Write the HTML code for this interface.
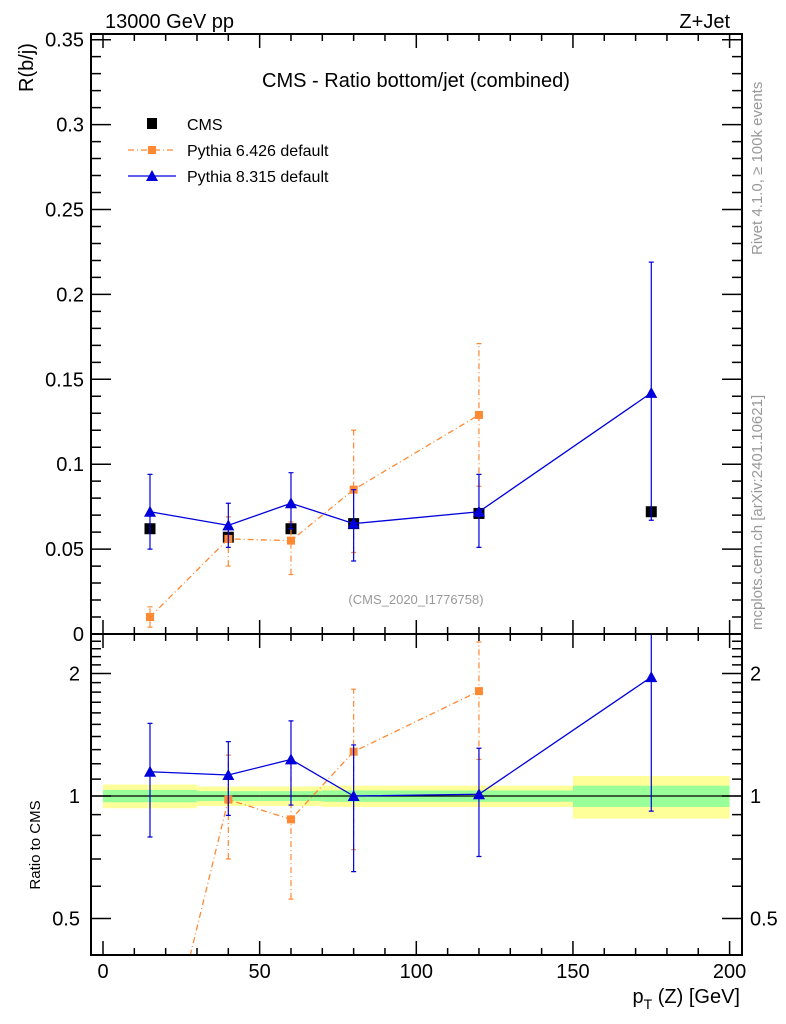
<!DOCTYPE html>
<html><head><meta charset="utf-8"><style>
html,body{margin:0;background:#fff;overflow:hidden;width:786px;height:1024px}
svg{display:block;font-family:"Liberation Sans",Arial,sans-serif}
</style></head><body>
<svg id="chart" width="786" height="1024" viewBox="0 0 786 1024" xmlns="http://www.w3.org/2000/svg">
<defs>
<clipPath id="cm"><rect x="91" y="34" width="651" height="600"/></clipPath>
<clipPath id="cr"><rect x="91" y="634" width="651" height="321"/></clipPath>
</defs>
<g id="bands" clip-path="url(#cr)"></g>
<g id="marksMain" clip-path="url(#cm)"></g>
<g id="marksRatio" clip-path="url(#cr)"></g>
<g id="axes"></g>
<text x="105" y="28" font-size="20">13000 GeV pp</text>
<text x="730" y="28" font-size="20" text-anchor="end">Z+Jet</text>
<text x="416" y="87" font-size="20" text-anchor="middle">CMS - Ratio bottom/jet (combined)</text>
<text x="416" y="604" font-size="13" fill="#999" text-anchor="middle">(CMS_2020_I1776758)</text>
<text transform="translate(33,92) rotate(-90)" font-size="20">R(b/j)</text>
<text transform="translate(40,845) rotate(-90)" font-size="15" text-anchor="middle">Ratio to CMS</text>
<text x="740" y="1003" font-size="20" text-anchor="end">p<tspan dy="6" font-size="14">T</tspan><tspan dy="-6"> (Z) [GeV]</tspan></text>
<text transform="translate(762,255) rotate(-90)" font-size="15" fill="#999">Rivet 4.1.0, ≥ 100k events</text>
<text transform="translate(762,630) rotate(-90)" font-size="15" fill="#999">mcplots.cern.ch [arXiv:2401.10621]</text>
<g>
<rect x="147" y="118" width="10" height="11" fill="#000"/>
<text x="187" y="130" font-size="16">CMS</text>
<line x1="128" y1="150" x2="176" y2="150" stroke="#f83" stroke-width="1.2" stroke-dasharray="6,3,1,3"/>
<rect x="148" y="146" width="8" height="8" fill="#f83"/>
<text x="187" y="156" font-size="16">Pythia 6.426 default</text>
<line x1="128" y1="176" x2="176" y2="176" stroke="#00d" stroke-width="1.3"/>
<path d="M152,170 L158,181 L146,181 Z" fill="#00d"/>
<text x="187" y="182" font-size="16">Pythia 8.315 default</text>
</g>
</svg>
<script>
const xs=[15,40,60,80,120,175];
const cmsVals=[0.062,0.057,0.062,0.065,0.071,0.072];
const p6x=[15,40,60,80,120];
const p6Vals=[0.010,0.056,0.055,0.085,0.129];
const p6Lo=[0.004,0.040,0.035,0.048,0.087];
const p6Hi=[0.016,0.069,0.066,0.120,0.171];
const p8Vals=[0.072,0.064,0.077,0.065,0.072,0.142];
const p8Lo=[0.050,0.051,0.062,0.043,0.051,0.067];
const p8Hi=[0.094,0.077,0.095,0.085,0.094,0.219];
const p6Ratio=[0.16,0.98,0.876,1.285,1.81];
const p6RatioLo=[0.10,0.70,0.558,0.738,1.23];
const p6RatioHi=[0.26,1.26,1.21,1.83,2.39];
const p8Ratio=[1.147,1.126,1.23,1.00,1.01,1.96];
const p8RatioLo=[0.793,0.896,0.95,0.652,0.71,0.918];
const p8RatioHi=[1.508,1.36,1.53,1.335,1.31,2.7];
const binEdges=[0,30,50,70,90,150,200];
const bandYellow=[0.067,0.055,0.055,0.06,0.06,0.12];
const bandGreen=[0.035,0.028,0.028,0.032,0.032,0.06];
const xTicks=[0,50,100,150,200];
const yTicks=[0,0.05,0.1,0.15,0.2,0.25,0.3,0.35];
const yTickLabels=["0","0.05","0.1","0.15","0.2","0.25","0.3","0.35"];
const rTicks=[0.5,1,2];

const NS="http://www.w3.org/2000/svg";
const X=v=>103+v*(729.6-103)/200;
const Y=v=>634-v*1698;
const R=v=>796-Math.log2(v)*122.5;
function mk(p,t,a){const e=document.createElementNS(NS,t);for(const k in a)e.setAttribute(k,a[k]);p.appendChild(e);return e;}
const ax=document.getElementById('axes'),mm=document.getElementById('marksMain'),mr=document.getElementById('marksRatio'),bd=document.getElementById('bands');

for(let i=0;i<binEdges.length-1;i++){
 const y=mk(bd,'rect',{x:X(binEdges[i]),width:X(binEdges[i+1])-X(binEdges[i]),y:R(1+bandYellow[i]),height:R(1-bandYellow[i])-R(1+bandYellow[i]),fill:'#ffff99'});
 
 
 const g=mk(bd,'rect',{x:X(binEdges[i]),width:X(binEdges[i+1])-X(binEdges[i]),y:R(1+bandGreen[i]),height:R(1-bandGreen[i])-R(1+bandGreen[i]),fill:'#99ff99'});
 
 
}
const one=mk(mr,'line',{x1:91,x2:742,y1:R(1),y2:R(1),stroke:'#000','stroke-width':1.3});



function series(g,xv,vals,lo,hi,fy,color,dash,marker,name){
 const pts=xv.map((x,i)=>X(x)+','+fy(vals[i])).join(' ');
 const pl=mk(g,'polyline',{points:pts,fill:'none',stroke:color,'stroke-width':1.3,'stroke-dasharray':dash||'none'});
 
 
 xv.forEach((x,i)=>{
  const cx=X(x);
  const e=mk(g,'path',{d:`M${cx},${fy(lo[i])}V${fy(hi[i])}M${cx-2.5},${fy(lo[i])}h5M${cx-2.5},${fy(hi[i])}h5`,stroke:color,'stroke-width':1.2,fill:'none','stroke-dasharray':dash||'none'});
  
  
  const cy=fy(vals[i]);
  let m;
  if(marker==='tri') m=mk(g,'path',{d:`M${cx},${cy-6}L${cx+6},${cy+5}L${cx-6},${cy+5}Z`,fill:color});
  else m=mk(g,'rect',{x:cx-4,y:cy-4,width:8,height:8,fill:color});
  
  
 });
}
xs.forEach((x,i)=>{
 const m=mk(mm,'rect',{x:X(x)-5.5,y:Y(cmsVals[i])-5.5,width:11,height:11,fill:'#000'});
 
 
});
series(mm,p6x,p6Vals,p6Lo,p6Hi,Y,'#f83','6,3,1,3','sq','pythia6');
series(mm,xs,p8Vals,p8Lo,p8Hi,Y,'#00d',null,'tri','pythia8');
series(mr,p6x,p6Ratio,p6RatioLo,p6RatioHi,R,'#f83','6,3,1,3','sq','pythia6-ratio');
series(mr,xs,p8Ratio,p8RatioLo,p8RatioHi,R,'#00d',null,'tri','pythia8-ratio');

const f1=mk(ax,'rect',{x:91,y:34,width:651,height:600,fill:'none',stroke:'#000','stroke-width':2});


const f2=mk(ax,'rect',{x:91,y:634,width:651,height:321,fill:'none',stroke:'#000','stroke-width':2});


let d='';
for(let v=0;v<=200;v+=10){const L=(v%50===0)?14:7;const x=X(v);
 d+=`M${x},634v${-L}M${x},34v${L}M${x},955v${-L}M${x},634v${L}`;}
for(let k=0;k<=35;k++){const v=k*0.01;const L=(k%5===0)?20:10;const y=Y(v);
 d+=`M91,${y}h${L}M742,${y}h${-L}`;}
for(let v=0.4;v<=2.55;v+=0.1){const y=R(v);if(y<634||y>955)continue;const maj=Math.abs(v-0.5)<1e-6||Math.abs(v-1)<1e-6||Math.abs(v-2)<1e-6;const L=maj?20:10;
 d+=`M91,${y}h${L}M742,${y}h${-L}`;}
const tk=mk(ax,'path',{d:d,stroke:'#000','stroke-width':1.5,fill:'none'});


xTicks.forEach(v=>{const t=mk(ax,'text',{x:X(v),y:978,'font-size':20,'text-anchor':'middle'});t.textContent=v;
 
 });
yTicks.forEach((v,i)=>{const t=mk(ax,'text',{x:84,y:Y(v)+7,'font-size':20,'text-anchor':'end'});t.textContent=yTickLabels[i];
 
 });
rTicks.forEach(v=>{const t=mk(ax,'text',{x:80,y:R(v)+7,'font-size':20,'text-anchor':'end'});t.textContent=v;
 
 
 const t2=mk(ax,'text',{x:750,y:R(v)+7,'font-size':20});t2.textContent=v;
 
 });
</script>
</body></html>
